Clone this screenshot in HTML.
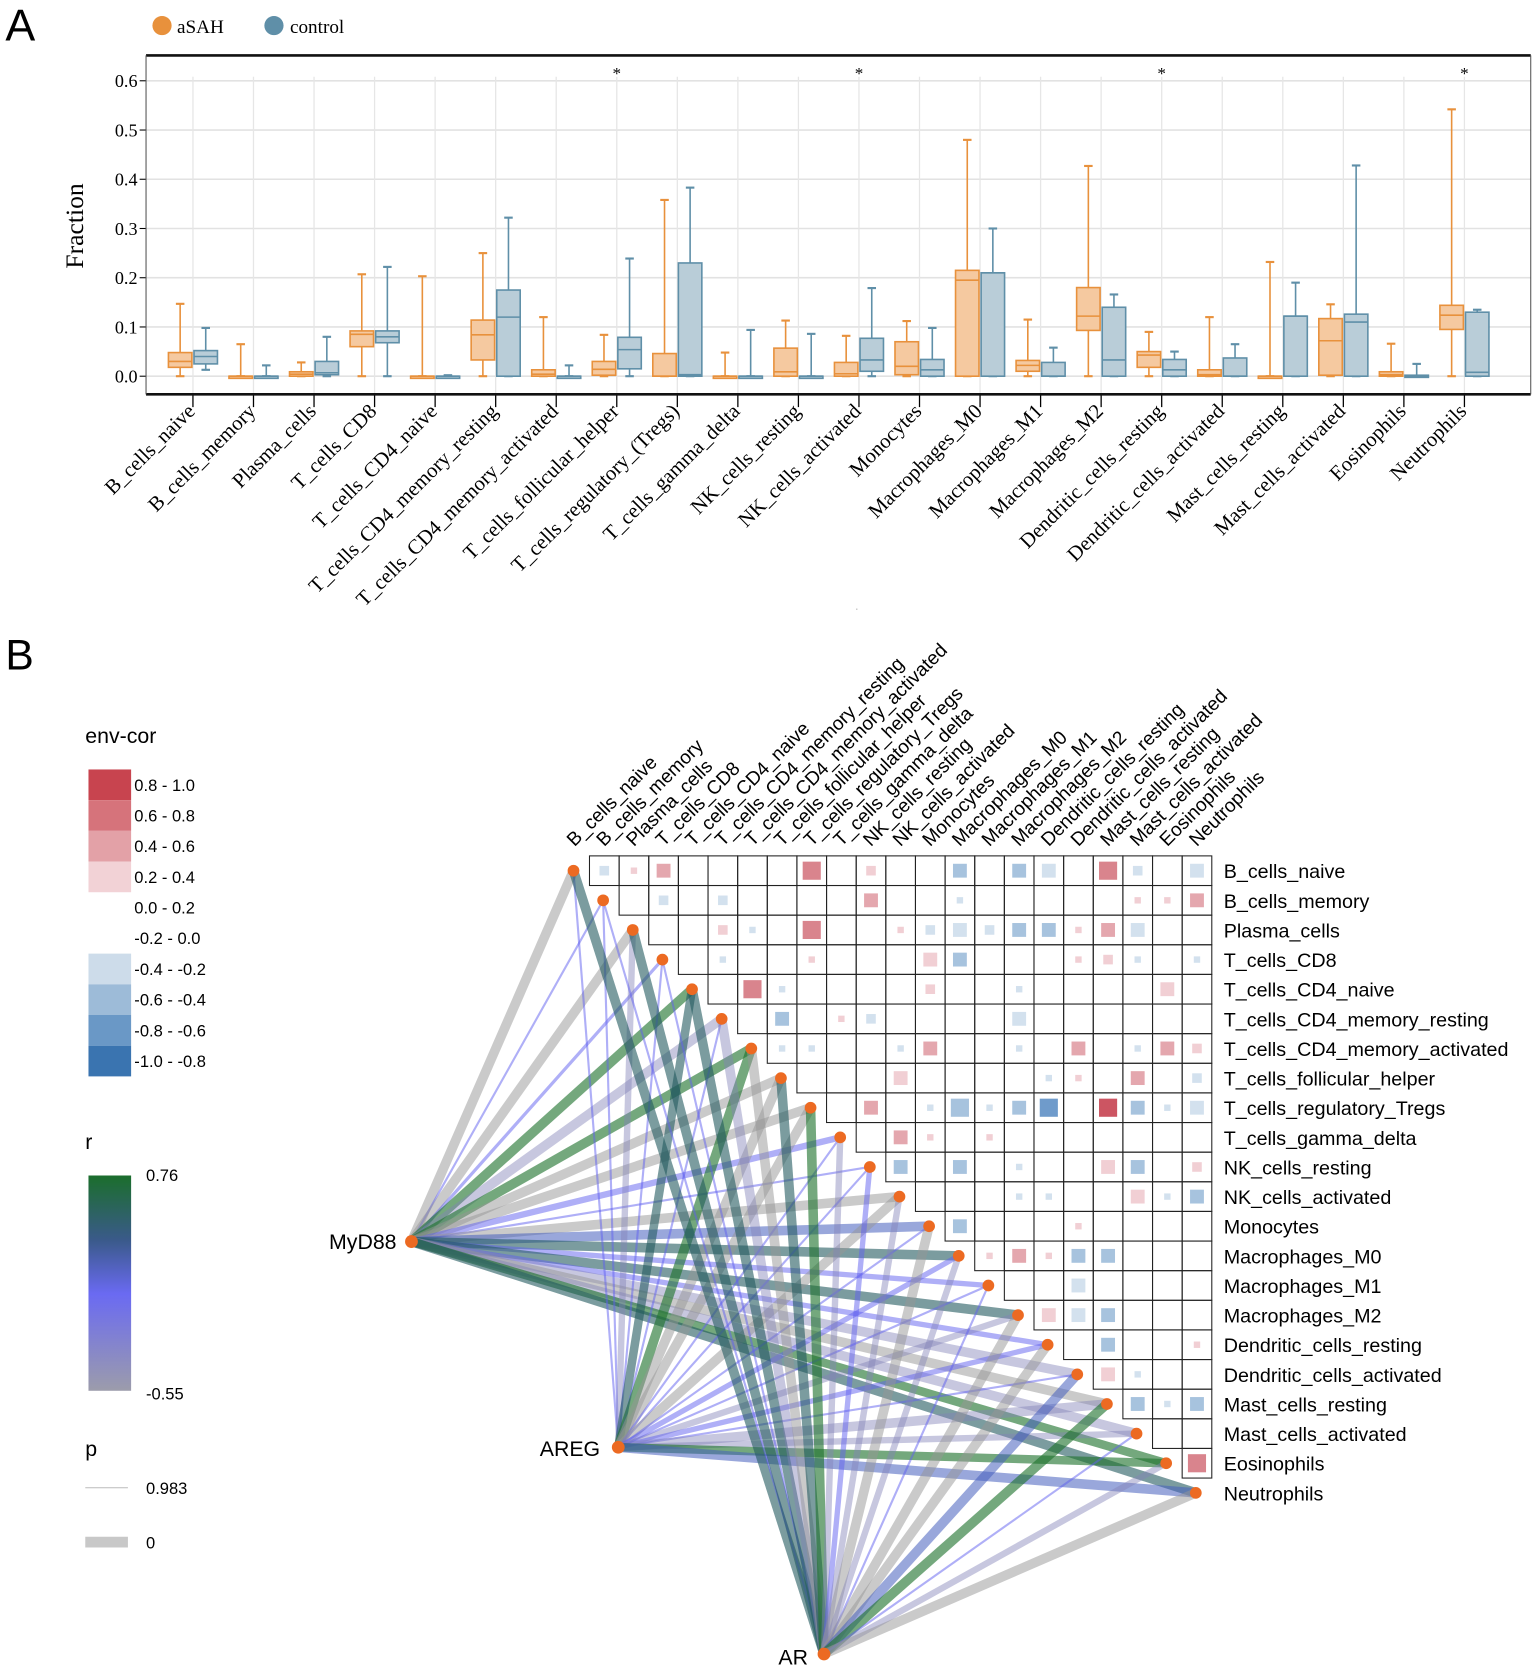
<!DOCTYPE html>
<html><head><meta charset="utf-8"><style>
html,body{margin:0;padding:0;background:#fff;}
svg{display:block}
</style></head><body>
<svg id="s" width="1535" height="1670" viewBox="0 0 1440 1567" preserveAspectRatio="none" xmlns="http://www.w3.org/2000/svg">
<rect width="1440" height="1567" fill="#fff"/>
<g id="A"></g>
<g id="B"></g>
</svg>
<script>
const NS="http://www.w3.org/2000/svg";
function el(p,t,a,txt){const e=document.createElementNS(NS,t);for(const k in a)e.setAttribute(k,a[k]);if(txt!==undefined)e.textContent=txt;p.appendChild(e);return e;}
const A=document.getElementById('A'),B=document.getElementById('B');
const serif='"Liberation Serif", serif', sans='"Liberation Sans", sans-serif';
// ---------- Panel A ----------
el(A,'text',{x:5,y:38,'font-family':sans,'font-size':42},'A');
el(A,'circle',{cx:152,cy:24,r:9,fill:'#e8913c'});
el(A,'text',{x:166,y:31,'font-family':serif,'font-size':18},'aSAH');
el(A,'circle',{cx:257,cy:24,r:9,fill:'#5f8fa8'});
el(A,'text',{x:272,y:31,'font-family':serif,'font-size':18},'control');
const L=137,R=1436,T=52,Bt=370;
const Y=v=>353-v*462;
for(let i=0;i<=6;i++){const y=Y(i/10);el(A,'line',{x1:L,x2:R,y1:y,y2:y,stroke:'#e2e2e2','stroke-width':1.5});
 el(A,'line',{x1:L-6,x2:L,y1:y,y2:y,stroke:'#000'});
 el(A,'text',{x:L-8,y:y+6,'text-anchor':'end','font-family':serif,'font-size':17},(i/10).toFixed(1));}
const cats=["B_cells_naive","B_cells_memory","Plasma_cells","T_cells_CD8","T_cells_CD4_naive","T_cells_CD4_memory_resting","T_cells_CD4_memory_activated","T_cells_follicular_helper","T_cells_regulatory_(Tregs)","T_cells_gamma_delta","NK_cells_resting","NK_cells_activated","Monocytes","Macrophages_M0","Macrophages_M1","Macrophages_M2","Dendritic_cells_resting","Dendritic_cells_activated","Mast_cells_resting","Mast_cells_activated","Eosinophils","Neutrophils"];
const cx=i=>181+i*56.8;
cats.forEach((c,i)=>{const x=cx(i);
 el(A,'line',{x1:x,x2:x,y1:T+20,y2:Bt,stroke:'#e6e6e6','stroke-width':1.2});
 el(A,'line',{x1:x,x2:x,y1:Bt,y2:Bt+12,stroke:'#000','stroke-width':1.2});
 el(A,'text',{x:x+3,y:387,'text-anchor':'end','font-family':serif,'font-size':19.5,transform:`rotate(-45 ${x+3} 387)`},c);
});
el(A,'line',{x1:L,x2:R,y1:T,y2:T,stroke:'#111','stroke-width':2.5});
el(A,'line',{x1:L,x2:R,y1:Bt,y2:Bt,stroke:'#111','stroke-width':2.5});
el(A,'line',{x1:L,x2:L,y1:T,y2:Bt,stroke:'#555','stroke-width':1});
el(A,'line',{x1:R,x2:R,y1:T,y2:Bt,stroke:'#555','stroke-width':1});
el(A,'text',{x:78,y:212,'text-anchor':'middle','font-family':serif,'font-size':24,transform:'rotate(-90 78 212)'},'Fraction');
[7,11,16,21].forEach(i=>el(A,'text',{x:cx(i),y:74,'text-anchor':'middle','font-family':serif,'font-size':16},'*'));
const O=[[0,.018,.03,.048,.147],[0,0,0,0,.065],[0,0,.004,.009,.028],[0,.06,.085,.092,.207],[0,0,0,0,.203],[0,.033,.084,.114,.25],[0,0,.004,.013,.12],[0,.002,.014,.03,.084],[0,0,0,.046,.358],[0,0,0,0,.048],[0,0,.009,.057,.113],[0,0,.005,.028,.082],[0,.003,.02,.07,.112],[0,0,.195,.215,.48],[0,.01,.022,.032,.115],[0,.093,.122,.18,.427],[0,.018,.043,.05,.09],[0,0,.003,.013,.12],[0,0,0,0,.232],[0,.002,.072,.117,.146],[0,0,.003,.009,.066],[0,.095,.124,.144,.542]];
const C=[[.013,.025,.04,.052,.098],[0,0,0,0,.022],[0,.003,.007,.03,.08],[0,.068,.08,.092,.222],[0,0,0,0,.002],[0,0,.12,.175,.322],[0,0,0,0,.022],[0,.015,.054,.079,.239],[0,0,.003,.23,.383],[0,0,0,0,.094],[0,0,0,0,.086],[0,.01,.033,.077,.179],[0,0,.013,.034,.098],[0,0,.21,.21,.3],[0,0,0,.028,.058],[0,0,.033,.14,.166],[0,0,.013,.034,.05],[0,0,0,.037,.065],[0,0,.122,.122,.19],[0,0,.11,.126,.428],[0,0,0,.002,.025],[0,0,.008,.13,.135]];
function box(x,d,fill,st){const w=22;
 el(A,'line',{x1:x,x2:x,y1:Y(d[0]),y2:Y(d[4]),stroke:st,'stroke-width':1.5});
 el(A,'line',{x1:x-4,x2:x+4,y1:Y(d[4]),y2:Y(d[4]),stroke:st,'stroke-width':2});
 el(A,'line',{x1:x-4,x2:x+4,y1:Y(d[0]),y2:Y(d[0]),stroke:st,'stroke-width':2});
 const h=Math.max(Y(d[1])-Y(d[3]),2);
 el(A,'rect',{x:x-w/2,y:Y(d[3]),width:w,height:h,fill:fill,stroke:st,'stroke-width':1.5});
 el(A,'line',{x1:x-w/2,x2:x+w/2,y1:Y(d[2]),y2:Y(d[2]),stroke:st,'stroke-width':1.5});}
cats.forEach((c,i)=>{box(cx(i)-12,O[i],'#f5c9a0','#e8913c');box(cx(i)+12,C[i],'#b9cdd8','#5f8fa8');});
el(A,'text',{x:803,y:572,'font-family':sans,'font-size':6},'.');
// ---------- Panel B ----------
el(B,'text',{x:5,y:628,'font-family':sans,'font-size':40},'B');
el(B,'text',{x:80,y:697,'font-family':sans,'font-size':20},'env-cor');
const lc=['#c8444f','#d6737b','#e3a1a7','#f2d2d6',null,null,'#cddcea','#9dbbd8','#6a98c6','#3a74b0'];
const ll=['0.8 - 1.0','0.6 - 0.8','0.4 - 0.6','0.2 - 0.4','0.0 - 0.2','-0.2 - 0.0','-0.4 - -0.2','-0.6 - -0.4','-0.8 - -0.6','-1.0 - -0.8'];
lc.forEach((c,i)=>{const y=722+i*28.8;if(c)el(B,'rect',{x:83,y:y,width:40,height:28.8,fill:c});
 el(B,'text',{x:126,y:y+20,'font-family':sans,'font-size':15.5},ll[i]);});
el(B,'text',{x:80,y:1078,'font-family':sans,'font-size':20},'r');
const defs=el(B,'defs',{});const g=el(defs,'linearGradient',{id:'rg',x1:0,y1:0,x2:0,y2:1});
el(g,'stop',{offset:0,'stop-color':'#1b6e2c'});el(g,'stop',{offset:0.3,'stop-color':'#3a5a8a'});el(g,'stop',{offset:0.55,'stop-color':'#6a6af2'});el(g,'stop',{offset:1,'stop-color':'#9c9cab'});
el(B,'rect',{x:83,y:1103,width:40,height:202,fill:'url(#rg)'});
el(B,'text',{x:137,y:1108,'font-family':sans,'font-size':15.5},'0.76');
el(B,'text',{x:137,y:1313,'font-family':sans,'font-size':15.5},'-0.55');
el(B,'text',{x:80,y:1366,'font-family':sans,'font-size':20},'p');
el(B,'line',{x1:80,x2:120,y1:1396,y2:1396,stroke:'#bbb','stroke-width':1});
el(B,'text',{x:137,y:1402,'font-family':sans,'font-size':15.5},'0.983');
el(B,'line',{x1:80,x2:120,y1:1447,y2:1447,stroke:'#c8c8c8','stroke-width':10});
el(B,'text',{x:137,y:1453,'font-family':sans,'font-size':15.5},'0');
const rows=["B_cells_naive","B_cells_memory","Plasma_cells","T_cells_CD8","T_cells_CD4_naive","T_cells_CD4_memory_resting","T_cells_CD4_memory_activated","T_cells_follicular_helper","T_cells_regulatory_Tregs","T_cells_gamma_delta","NK_cells_resting","NK_cells_activated","Monocytes","Macrophages_M0","Macrophages_M1","Macrophages_M2","Dendritic_cells_resting","Dendritic_cells_activated","Mast_cells_resting","Mast_cells_activated","Eosinophils","Neutrophils"];
const S=27.8, nx=i=>538+S*i, ny=i=>817+S*i;
const hubs=[[386,1165],[580,1358],[773,1552]];
const col={G:'rgba(30,115,45,0.62)',T:'rgba(35,90,95,0.6)',Bl:'rgba(95,95,240,0.5)',SB:'rgba(70,95,190,0.55)',P:'rgba(130,130,185,0.45)',Gr:'rgba(150,150,150,0.5)'};
const E=[
[['Gr',9],['Bl',2],['Gr',9],['Bl',3],['G',9],['P',9],['G',9],['Gr',9],['Gr',9],['Bl',6],['Bl',2],['Gr',9],['SB',9],['T',9],['Bl',5],['T',9],['Bl',5],['P',9],['Gr',9],['P',9],['G',8],['T',9]],
[['Bl',2],['Bl',2],['P',6],['Bl',2],['T',8],['Bl',2],['G',9],['Gr',9],['Gr',9],['Bl',2],['Bl',2],['Gr',9],['Bl',2],['Bl',5],['Bl',2],['P',6],['Bl',5],['Bl',2],['P',9],['P',6],['G',8],['SB',9]],
[['T',9],['Bl',2],['T',9],['Bl',2],['T',9],['P',9],['Gr',9],['T',9],['G',9],['P',6],['Bl',5],['P',6],['Gr',9],['P',6],['Bl',2],['Gr',9],['Gr',9],['SB',9],['G',9],['Bl',2],['P',6],['Gr',9]]];
E.forEach((arr,h)=>arr.forEach((e,i)=>el(B,'line',{x1:hubs[h][0],y1:hubs[h][1],x2:nx(i),y2:ny(i),stroke:col[e[0]],'stroke-width':e[1]})));
const gx=j=>553+S*(j-1);
for(let i=0;i<=20;i++){for(let j=i+1;j<=21;j++){el(B,'rect',{x:gx(j),y:ny(i)-S/2,width:S,height:S,fill:'#fff','fill-opacity':0,stroke:'#222','stroke-width':1});}}
const cc={lb:'#d3e1ee',bm:'#a7c3de',bd:'#6f9bcb',lr:'#f1cfd4',rm:'#e4a7ae',rb:'#d9848d',rd:'#cc5562'};
const sz={t:6,s:9,m:13,b:17};
const cells=[
[0,1,'lb','s'],[0,2,'lr','t'],[0,3,'rm','m'],[0,8,'rb','b'],[0,10,'lr','s'],[0,13,'bm','m'],[0,15,'bm','m'],[0,16,'lb','m'],[0,18,'rb','b'],[0,19,'lb','s'],[0,21,'lb','m'],
[1,3,'lb','s'],[1,5,'lb','s'],[1,10,'rm','m'],[1,13,'lb','t'],[1,19,'lr','t'],[1,20,'lr','t'],[1,21,'rm','m'],
[2,5,'lr','s'],[2,6,'lb','t'],[2,8,'rb','b'],[2,11,'lr','t'],[2,12,'lb','s'],[2,13,'lb','m'],[2,14,'lb','s'],[2,15,'bm','m'],[2,16,'bm','m'],[2,17,'lr','t'],[2,18,'rm','m'],[2,19,'lb','m'],
[3,5,'lb','t'],[3,8,'lr','t'],[3,12,'lr','m'],[3,13,'bm','m'],[3,17,'lr','t'],[3,18,'lr','s'],[3,19,'lb','t'],[3,21,'lb','t'],
[4,6,'rb','b'],[4,7,'lb','t'],[4,12,'lr','s'],[4,15,'lb','t'],[4,20,'lr','m'],
[5,7,'bm','m'],[5,9,'lr','t'],[5,10,'lb','s'],[5,15,'lb','m'],
[6,7,'lb','t'],[6,8,'lb','t'],[6,11,'lb','t'],[6,12,'rm','m'],[6,15,'lb','t'],[6,17,'rm','m'],[6,19,'lb','t'],[6,20,'rm','m'],[6,21,'lr','s'],
[7,11,'lr','m'],[7,16,'lb','t'],[7,17,'lr','t'],[7,19,'rm','m'],[7,21,'lb','s'],
[8,10,'rm','m'],[8,12,'lb','t'],[8,13,'bm','b'],[8,14,'lb','t'],[8,15,'bm','m'],[8,16,'bd','b'],[8,18,'rd','b'],[8,19,'bm','m'],[8,20,'lb','t'],[8,21,'lb','m'],
[9,11,'rm','m'],[9,12,'lr','t'],[9,14,'lr','t'],
[10,11,'bm','m'],[10,13,'bm','m'],[10,15,'lb','t'],[10,18,'lr','m'],[10,19,'bm','m'],[10,21,'lr','s'],
[11,15,'lb','t'],[11,16,'lb','t'],[11,19,'lr','m'],[11,20,'lb','t'],[11,21,'bm','m'],
[12,13,'bm','m'],[12,17,'lr','t'],
[13,14,'lr','t'],[13,15,'rm','m'],[13,16,'lr','t'],[13,17,'bm','m'],[13,18,'bm','m'],
[14,17,'lb','m'],
[15,16,'lr','m'],[15,17,'lb','m'],[15,18,'bm','m'],
[16,18,'bm','m'],[16,21,'lr','t'],
[17,18,'lr','m'],[17,19,'lb','t'],
[18,19,'bm','m'],[18,20,'lb','t'],[18,21,'bm','m'],
[20,21,'rb','b']];
cells.forEach(c=>{const s=sz[c[3]];el(B,'rect',{x:gx(c[1])+S/2-s/2,y:ny(c[0])-s/2,width:s,height:s,fill:cc[c[2]]});});
for(let i=0;i<22;i++)el(B,'circle',{cx:nx(i),cy:ny(i),r:5.5,fill:'#ec6a22'});
hubs.forEach(h=>el(B,'circle',{cx:h[0],cy:h[1],r:6,fill:'#ec6a22'}));
rows.forEach((r,i)=>el(B,'text',{x:1148,y:ny(i)+7,'font-family':sans,'font-size':18.5},r));
rows.forEach((r,i)=>{const x=538+S*i+1,y=795;el(B,'text',{x:x,y:y,'font-family':sans,'font-size':18,transform:`rotate(-45 ${x} ${y})`},r);});
el(B,'text',{x:372,y:1172,'text-anchor':'end','font-family':sans,'font-size':20},'MyD88');
el(B,'text',{x:563,y:1366,'text-anchor':'end','font-family':sans,'font-size':20},'AREG');
el(B,'text',{x:758,y:1562,'text-anchor':'end','font-family':sans,'font-size':20},'AR');
</script>
</body></html>
